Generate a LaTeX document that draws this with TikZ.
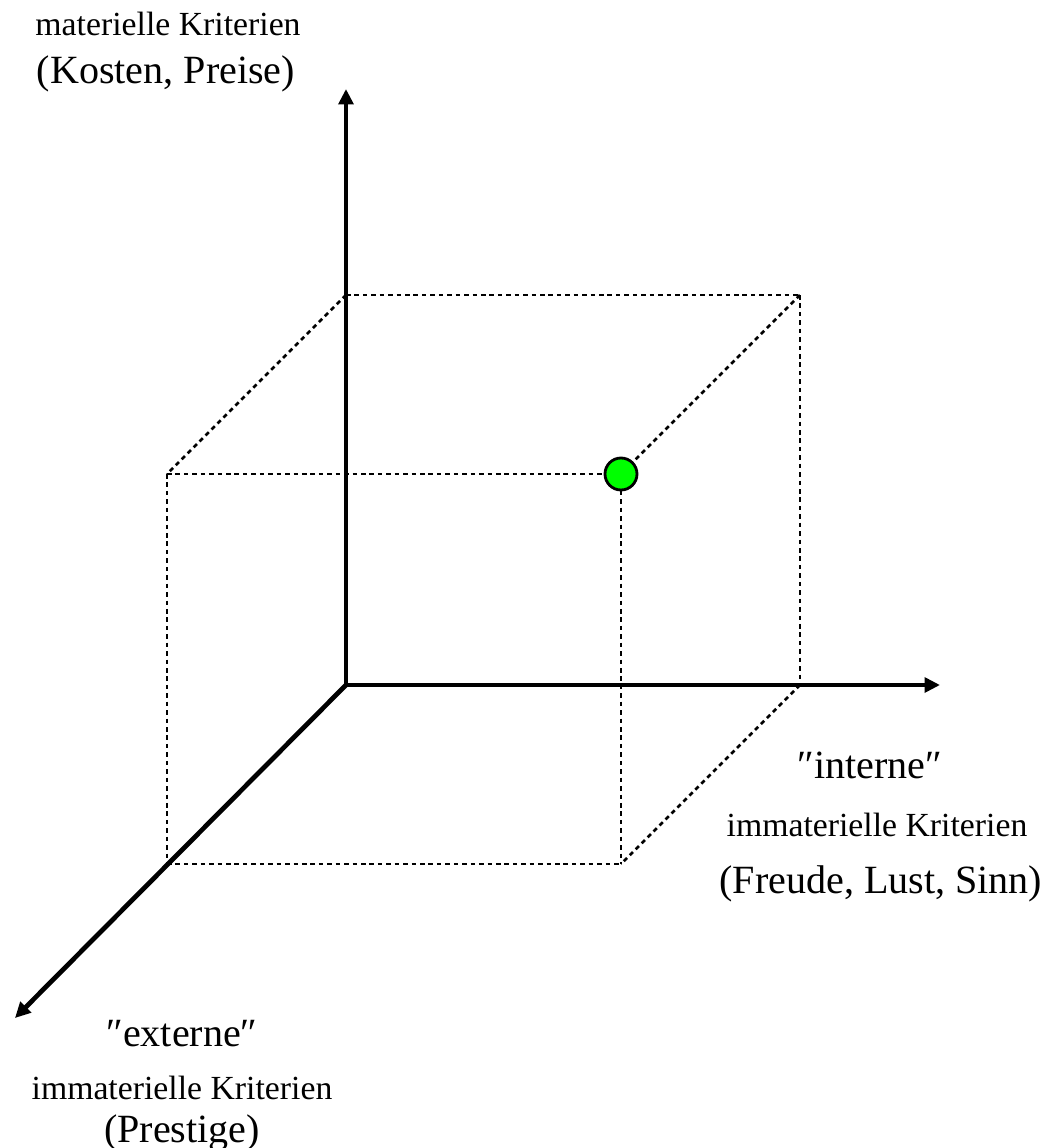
\documentclass[tikz,border=0pt]{standalone}
\usepackage{fontspec}
\setmainfont{Liberation Serif}
\usetikzlibrary{arrows.meta}

\begin{document}
\begin{tikzpicture}[
    axis/.style={line width=1.35pt,-{Triangle[length=4.4pt,width=4.2pt]}},
    guide/.style={line width=0.75pt,dash pattern=on 1.3pt off 1.1pt},
    bigtxt/.style={font=\fontsize{11.4}{13}\selectfont,anchor=base},
    smalltxt/.style={font=\fontsize{9.6}{11}\selectfont,anchor=base}]
    \useasboundingbox (-3.46,-4.63) rectangle (7.04,6.85);
    % corners of the box
    \coordinate (O) at (0,0);
    \coordinate (bt) at (0,3.90);
    \coordinate (btr) at (4.54,3.90);
    \coordinate (br) at (4.54,0);
    \coordinate (ftl) at (-1.79,2.11);
    \coordinate (ftr) at (2.75,2.11);
    \coordinate (fbr) at (2.75,-1.79);
    \coordinate (fbl) at (-1.79,-1.79);
    % dashed box
    \foreach \a/\b in {bt/btr,btr/br,bt/ftl,btr/ftr,br/fbr,ftl/ftr,ftl/fbl,fbl/fbr,ftr/fbr}
        {\draw[guide] (\a) -- (\b);}
    % axes
    \coordinate (ytip) at (0,5.96);
    \coordinate (xtip) at (5.94,0);
    \coordinate (ztip) at (-3.31,-3.33);
    \draw[axis] (O) -- (ytip);
    \draw[axis] (O) -- (xtip);
    \draw[axis] (O) -- (ztip);
    \node[circle,draw,line width=0.8pt,fill=green,minimum size=0.32cm,inner sep=0pt] (pt) at (ftr) {};
    % labels
    \node[smalltxt] (matA) at (-1.78,6.50) {materielle Kriterien};
    \node[bigtxt] (matB) at (-1.80,6.02) {(Kosten, Preise)};
    \node[bigtxt] (intA) at (5.24,-0.93) {″interne″};
    \node[smalltxt] (intB) at (5.31,-1.51) {immaterielle Kriterien};
    \node[bigtxt] (intC) at (5.35,-2.08) {(Freude, Lust, Sinn)};
    \node[bigtxt] (extA) at (-1.64,-3.61) {″externe″};
    \node[smalltxt] (extB) at (-1.64,-4.14) {immaterielle Kriterien};
    \node[bigtxt] (extC) at (-1.64,-4.57) {(Prestige)};
\end{tikzpicture}
\end{document}
